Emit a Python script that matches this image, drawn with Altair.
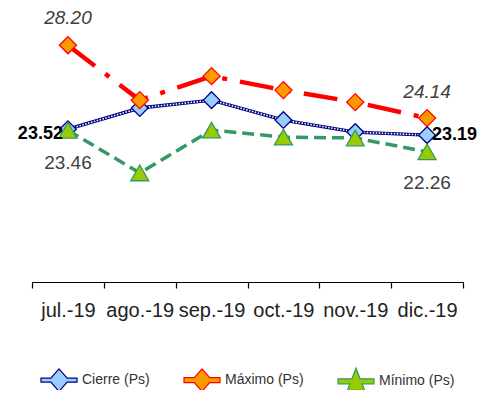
import altair as alt
import pandas as pd

months = ["jul.-19", "ago.-19", "sep.-19", "oct.-19", "nov.-19", "dic.-19"]
series_names = ["Cierre (Ps)", "Máximo (Ps)", "Mínimo (Ps)"]
cierre = [23.52, 24.70, 25.14, 24.03, 23.36, 23.19]
maximo = [28.20, 25.14, 26.48, 25.70, 25.03, 24.14]
minimo = [23.46, 21.08, 23.47, 23.08, 23.03, 22.26]

line_colors = ["#000080", "#ff0000", "#339966"]
fill_colors = ["#99ccff", "#ff9900", "#99cc00"]

rows = []
for name, vals in zip(series_names, [cierre, maximo, minimo]):
    for m, v in zip(months, vals):
        rows.append({"month": m, "series": name, "value": v})
df = pd.DataFrame(rows)

FONT = "Liberation Sans"

x_enc = alt.X(
    "month:N",
    sort=months,
    scale=alt.Scale(type="band", paddingInner=0, paddingOuter=0),
    axis=alt.Axis(
        title=None, labelAngle=0, tickBand="extent", domainColor="#000000",
        tickColor="#000000", tickSize=6, tickWidth=1.2, domainWidth=1.2,
        labelFont=FONT, labelFontSize=20, labelColor="#222222",
        labelPadding=12, labelOverlap=False, grid=False,
    ),
)
y_enc = alt.Y("value:Q", scale=alt.Scale(domain=[15, 30], nice=False, zero=False), axis=None)

base = alt.Chart(df).encode(x=x_enc, y=y_enc)


def sel(name):
    return alt.datum.series == name


# Cierre
c_line = base.mark_line(color=line_colors[0], strokeWidth=3.4).transform_filter(sel(series_names[0]))
c_line2 = base.mark_line(color="#ffffff", strokeWidth=1.6, strokeDash=[1.5, 1.5]).transform_filter(sel(series_names[0]))
c_pts = base.mark_point(shape="diamond", filled=True, fill=fill_colors[0], stroke=line_colors[0],
                        strokeWidth=1.3, size=280, opacity=1).transform_filter(sel(series_names[0]))
# Maximo
m_line = base.mark_line(color=line_colors[1], strokeWidth=4.5, strokeDash=[34, 13, 5, 13]).transform_filter(sel(series_names[1]))
m_pts = base.mark_point(shape="diamond", filled=True, fill=fill_colors[1], stroke=line_colors[1],
                        strokeWidth=1.3, size=289, opacity=1).transform_filter(sel(series_names[1]))
# Minimo
n_line = base.mark_line(color=line_colors[2], strokeWidth=3.5, strokeDash=[12, 6]).transform_filter(sel(series_names[2]))
n_pts = base.mark_point(shape="triangle-up", filled=True, fill=fill_colors[2], stroke=line_colors[2],
                        strokeWidth=1.3, size=324, opacity=1).transform_filter(sel(series_names[2]))

legend_paths = [
    "M-2,-0.22L-0.906,-0.22L0,-1.25L0.906,-0.22L2,-0.22L2,0.22L0.906,0.22L0,1.25L-0.906,0.22L-2,0.22Z",
    "M-2,-0.28L-0.854,-0.28L0,-1.25L0.854,-0.28L2,-0.28L2,0.28L0.854,0.28L0,1.25L-0.854,0.28L-2,0.28Z",
    "M-2,-0.28L-0.454,-0.28L0,-1.45L0.454,-0.28L2,-0.28L2,0.28L0.671,0.28L0.95,1.0L-0.95,1.0L-0.671,0.28L-2,0.28Z",
]

leg = alt.Legend(
    orient="none", legendX=17, legendY=357, direction="horizontal", title=None,
    symbolSize=324, symbolStrokeWidth=1.2, symbolOpacity=1, labelOffset=13,
    columnPadding=31, labelFont=FONT, labelFontSize=14, labelColor="#333333",
    padding=0, rowPadding=0,
)
legend_layer = base.mark_point(filled=True, opacity=0).encode(
    fill=alt.Fill("series:N", scale=alt.Scale(domain=series_names, range=fill_colors), legend=leg),
    stroke=alt.Stroke("series:N", scale=alt.Scale(domain=series_names, range=line_colors), legend=leg),
    shape=alt.Shape("series:N", scale=alt.Scale(domain=series_names, range=legend_paths), legend=leg),
)


def label(series, month, **kw):
    props = dict(font=FONT, fontSize=19, baseline="middle")
    props.update(kw)
    return base.mark_text(**props).encode(text=alt.Text("value:Q", format=".2f")).transform_filter(
        (alt.datum.series == series) & (alt.datum.month == month)
    )


labels = [
    label(series_names[1], months[0], dy=-27, fontStyle="italic", color="#404040"),
    label(series_names[0], months[0], dx=-5, dy=5, align="right", fontWeight="bold", color="#000000", fontSize=18),
    label(series_names[2], months[0], dy=33, color="#404040"),
    label(series_names[1], months[-1], dy=-26, fontStyle="italic", color="#404040"),
    label(series_names[0], months[-1], dx=5, dy=0, align="left", fontWeight="bold", color="#000000", fontSize=18),
    label(series_names[2], months[-1], dy=31, color="#404040"),
]

chart = alt.layer(
    legend_layer, c_line, c_line2, c_pts, m_line, m_pts, n_line, n_pts, *labels
).properties(
    width=431, height=269, autosize="none",
    padding={"left": 24, "top": 5, "right": 16, "bottom": 108},
).configure_view(stroke=None)

chart.save("out.html", embed_options={"renderer": "svg", "actions": False})
